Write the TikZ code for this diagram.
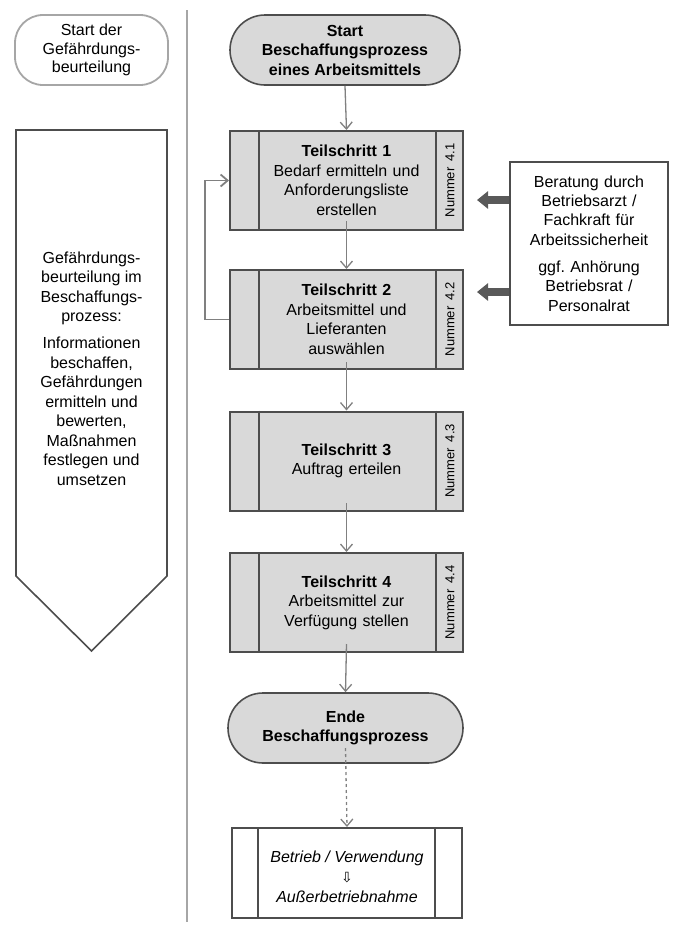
\documentclass[tikz,border=0pt]{standalone}
\usepackage{fontspec}
\setmainfont{Liberation Sans}
\newfontfamily\dejavu{DejaVu Sans}
\usetikzlibrary{arrows.meta}
\definecolor{boxfill}{HTML}{D9D9D9}
\definecolor{boxline}{HTML}{4D4D4D}
\definecolor{connline}{HTML}{808080}
\definecolor{fatgray}{HTML}{595959}
\definecolor{lightline}{HTML}{A6A6A6}
\frenchspacing
\tikzset{
  txt/.style={font=\fontsize{16}{19.5}\selectfont, align=center},
  stepbox/.style={rectangle, draw=boxline, line width=2pt, fill=boxfill,
    minimum width=233pt, minimum height=99pt, inner sep=0pt, txt, text width=172pt},
  terminal/.style={rectangle, rounded corners=35pt, draw=boxline, line width=1.6pt,
    fill=boxfill, minimum height=70pt, inner sep=0pt, txt, font=\fontsize{16}{19.5}\selectfont\bfseries},
  numlabel/.style={rotate=90, font=\fontsize{13}{15}\selectfont, inner sep=0pt},
  innerline/.style={draw=boxline, line width=2pt},
  conn/.style={draw=connline, line width=1.3pt, -{Straight Barb[length=7pt,width=12pt]}},
  fatarrow/.style={draw=fatgray, line width=8pt, -{Triangle[length=11pt,width=17pt]}},
}
\begin{document}
\begin{tikzpicture}[x=1pt,y=-1pt]
\useasboundingbox (0,0) rectangle (680,930);

% divider
\draw[lightline, line width=1.5pt] (187,10) -- (187,922);

% left column
\node[rectangle, rounded corners=28pt, draw=lightline, line width=1.8pt, fill=white,
  minimum width=153pt, minimum height=70pt, inner sep=0pt, txt, font=\fontsize{16}{18.5}\selectfont]
  (gb) at (91.5,50) {Start der\\Gefährdungs-\\beurteilung};

\draw[draw=boxline, line width=1.6pt, fill=white]
  (16,130) -- (167,130) -- (167,576) -- (91.5,651) -- (16,576) -- cycle;
\node[txt] (gbtext) at (91.5,368.5) {Gefährdungs-\\beurteilung im\\Beschaffungs-\\prozess:\\[7.5pt]
Informationen\\beschaffen,\\Gefährdungen\\ermitteln und\\bewerten,\\Maßnahmen\\festlegen und\\umsetzen};

% main flow
\node[terminal, minimum width=230pt] (st) at (345,50) {Start\\Beschaffungsprozess\\eines Arbeitsmittels};

\node[stepbox] (b1) at (346.5,180.5) {\textbf{Teilschritt 1}\\Bedarf ermitteln und\\Anforderungsliste\\erstellen};
\node[stepbox] (b2) at (346.5,319.5) {\textbf{Teilschritt 2}\\Arbeitsmittel und\\Lieferanten\\auswählen};
\node[stepbox] (b3) at (346.5,461) {\textbf{Teilschritt 3}\\Auftrag erteilen};
\node[stepbox] (b4) at (346.5,602.5) {\textbf{Teilschritt 4}\\Arbeitsmittel zur\\Verfügung stellen};

\foreach \b/\n in {b1/4.1,b2/4.2,b3/4.3,b4/4.4}{
  \draw[innerline] ([xshift=29.5pt]\b.north west) -- ([xshift=29.5pt]\b.south west);
  \draw[innerline] ([xshift=-28pt]\b.north east) -- ([xshift=-28pt]\b.south east);
  \node[numlabel] (\b num) at ([xshift=-14pt]\b.east) {Nummer\hspace{0.45em}\n};
}

\node[terminal, minimum width=235pt] (en) at (345.5,728) {Ende\\Beschaffungsprozess};

\node[rectangle, draw=boxline, line width=2pt, fill=white, minimum width=230pt,
  minimum height=90pt, inner sep=0pt] (bt) at (347,873) {};
\node[txt, font=\fontsize{16}{20}\selectfont\itshape, inner sep=0pt] (bttext) at ([yshift=-4pt]bt.center)
  {Betrieb / Verwendung\\{\dejavu\upshape\fontsize{14}{20}\selectfont ⇩}\\Außerbetriebnahme};
\draw[innerline] ([xshift=27pt]bt.north west) -- ([xshift=27pt]bt.south west);
\draw[innerline] ([xshift=-28pt]bt.north east) -- ([xshift=-28pt]bt.south east);

% connectors
\draw[conn] (st.south) -- (b1.north);
\draw[conn] ([yshift=10pt]b1.south) -- (b2.north);
\draw[conn] ([yshift=8pt]b2.south) -- (b3.north);
\draw[conn] ([yshift=8.5pt]b3.south) -- (b4.north);
\draw[conn] ([yshift=9pt]b4.south) -- (en.north);
\draw[conn, dashed, -{Straight Barb[length=7pt,width=12pt]}] ([yshift=-20pt]en.center) -- (bt.north);
\draw[conn, line width=1.8pt] (b2.west) -- ++(-24,0) |- (b1.west);

% right box
\node[rectangle, draw=boxline, line width=1.6pt, fill=white, minimum width=158pt,
  minimum height=163pt, inner sep=0pt, txt, text width=150pt, font=\fontsize{16}{19.3}\selectfont]
  (rb) at (589,243.5) {Beratung durch\\Betriebsarzt /\\Fachkraft für\\Arbeitssicherheit\\[8pt]ggf. Anhörung\\Betriebsrat /\\Personalrat};

\coordinate (fa1) at (477,200);
\coordinate (fa2) at (477,292);
\draw[fatarrow] (rb.west |- fa1) -- (fa1);
\draw[fatarrow] (rb.west |- fa2) -- (fa2);
\end{tikzpicture}
\end{document}
